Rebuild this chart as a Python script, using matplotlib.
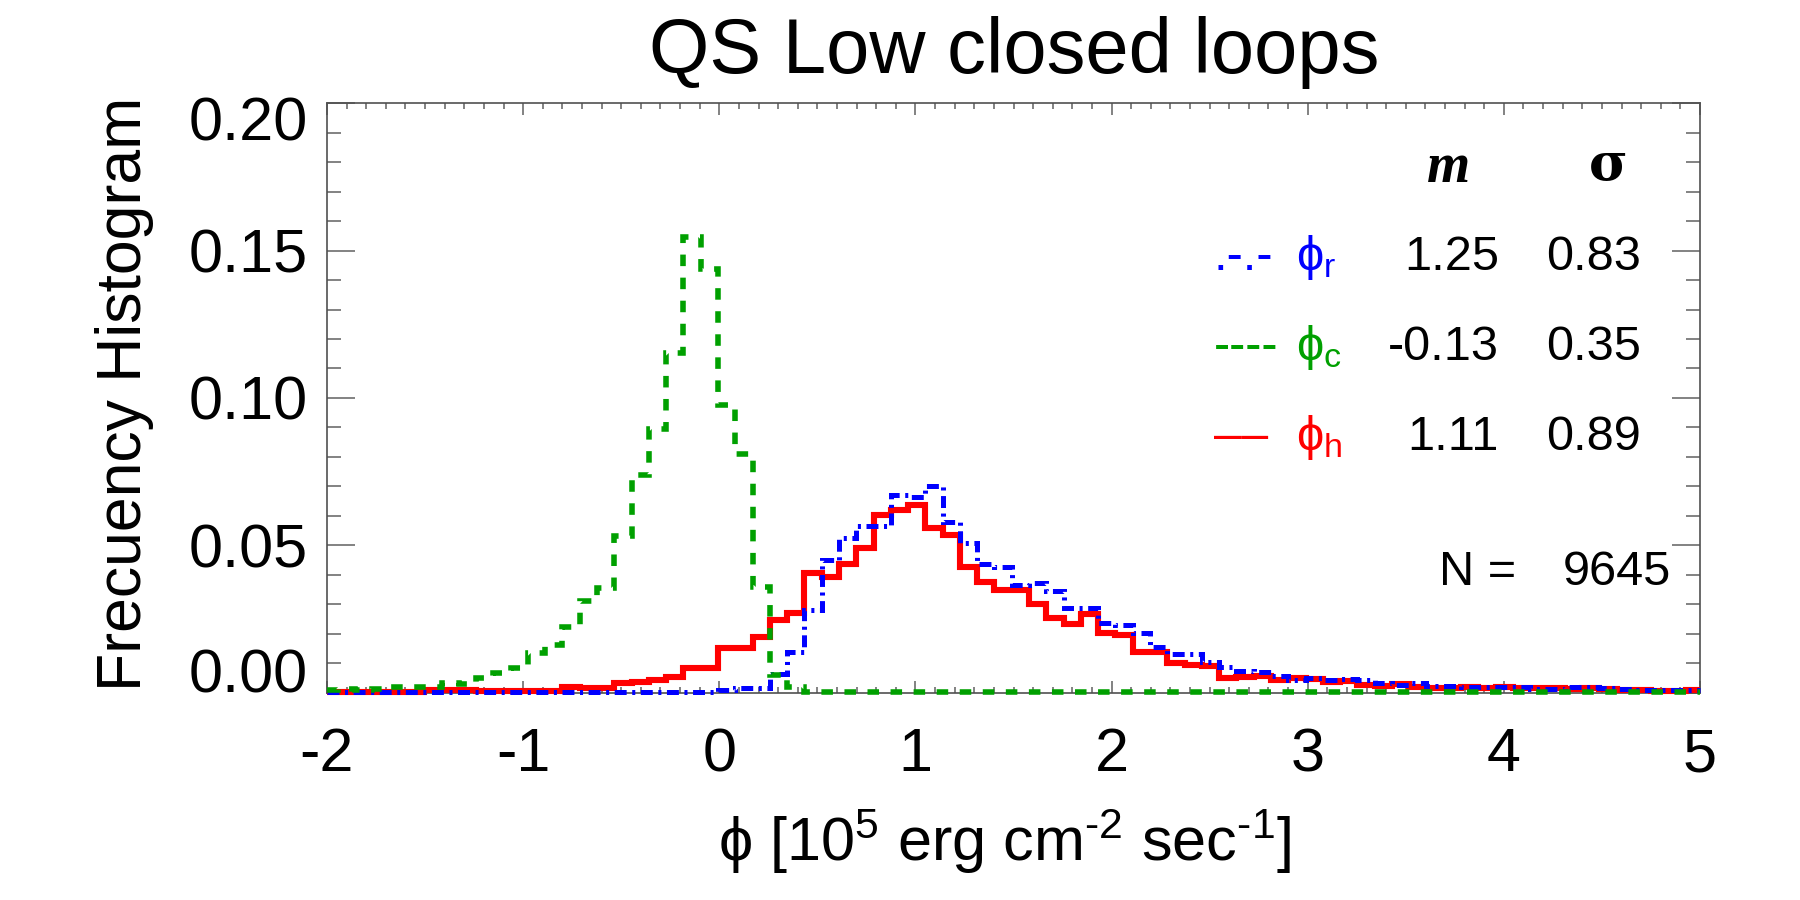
import numpy as np
import matplotlib
matplotlib.use("Agg")
import matplotlib.pyplot as plt
from matplotlib.ticker import FixedLocator, MultipleLocator
from matplotlib.transforms import ScaledTranslation

plt.rcParams['font.family'] = ['Liberation Sans', 'DejaVu Sans']
plt.rcParams['axes.unicode_minus'] = False
plt.rcParams['mathtext.fontset'] = 'custom'
plt.rcParams['mathtext.rm'] = 'Liberation Sans'
plt.rcParams['mathtext.it'] = 'Liberation Sans:italic'
plt.rcParams['mathtext.bf'] = 'Liberation Sans:bold'
plt.rcParams['mathtext.fallback'] = 'stix'
plt.rcParams['lines.scale_dashes'] = False

# ---------------- data ----------------
title = "QS Low closed loops"
xlabel = r"$\mathrm{\phi}$ [10$^{5}$ erg cm$^{\text{-2}}$ sec$^{\text{-1}}$]"
ylabel = "Frecuency Histogram"

bin_start = -2.0329
bin_width = 0.0881

# frequency per bin (80 bins)
phi_r = [0.0001, 0.0001, 0.0001, 0.0001, 0.0001, 0.0003, 0.0003, 0.0003,
         0.0003, 0.0003, 0.0003, 0.0003, 0.0003, 0.0003, 0.0003, 0.0003,
         0.0003, 0.0003, 0.0003, 0.0003, 0.0003, 0.0003, 0.0003,
         0.0008, 0.0014, 0.0014, 0.0062, 0.0136, 0.0280, 0.0449, 0.0526,
         0.0566, 0.0566, 0.0670, 0.0665, 0.0701, 0.0579, 0.0506, 0.0435,
         0.0427, 0.0365, 0.0370, 0.0345, 0.0286, 0.0286, 0.0235, 0.0229,
         0.0201, 0.0155, 0.0131, 0.0130, 0.0105, 0.0088, 0.0074, 0.0071,
         0.0056, 0.0042, 0.0048, 0.0042, 0.0046, 0.0042, 0.0033, 0.0025,
         0.0031, 0.0022, 0.0022, 0.0018, 0.0020, 0.0018, 0.0018, 0.0012,
         0.0012, 0.0020, 0.0018, 0.0014, 0.0012, 0.0010, 0.0010, 0.0008,
         0.0008]
phi_c = [0.0008, 0.0011, 0.0008, 0.0011, 0.0020, 0.0018, 0.0019, 0.0033,
         0.0029, 0.0048, 0.0067, 0.0082, 0.0133, 0.0161, 0.0223, 0.0310,
         0.0355, 0.0532, 0.0738, 0.0895, 0.1154, 0.1546, 0.1436,
         0.0975, 0.0809, 0.0359, 0.0059, 0.0018, 0.0003, 0.0002, 0.0002,
         0.0002, 0.0002, 0.0002, 0.0002, 0.0002, 0.0002, 0.0002, 0.0002,
         0.0002, 0.0002, 0.0002, 0.0002, 0.0002, 0.0002, 0.0002, 0.0002,
         0.0002, 0.0002, 0.0002, 0.0002, 0.0002, 0.0002, 0.0002, 0.0002,
         0.0002, 0.0002, 0.0002, 0.0002, 0.0002, 0.0002, 0.0002, 0.0002,
         0.0002, 0.0002, 0.0002, 0.0002, 0.0002, 0.0002, 0.0002, 0.0002,
         0.0002, 0.0002, 0.0002, 0.0002, 0.0002, 0.0002, 0.0002, 0.0002,
         0.0002]
phi_h = [0.0003, 0.0003, 0.0003, 0.0003, 0.0003, 0.0003, 0.0008, 0.0008,
         0.0008, 0.0005, 0.0005, 0.0005, 0.0005, 0.0005, 0.0020, 0.0015,
         0.0014, 0.0031, 0.0037, 0.0042, 0.0052, 0.0082, 0.0082,
         0.0150, 0.0150, 0.0189, 0.0246, 0.0269, 0.0404, 0.0393, 0.0435,
         0.0491, 0.0604, 0.0619, 0.0636, 0.0560, 0.0534, 0.0427, 0.0374,
         0.0348, 0.0348, 0.0300, 0.0252, 0.0232, 0.0266, 0.0201, 0.0195,
         0.0136, 0.0137, 0.0099, 0.0093, 0.0090, 0.0048, 0.0052, 0.0056,
         0.0042, 0.0050, 0.0045, 0.0037, 0.0038, 0.0025, 0.0022, 0.0028,
         0.0018, 0.0014, 0.0015, 0.0020, 0.0014, 0.0017, 0.0014, 0.0016,
         0.0014, 0.0013, 0.0014, 0.0011, 0.0010, 0.0008, 0.0006, 0.0006,
         0.0008]

series_names = [r"$\mathrm{\phi}_{\mathrm{r}}$", r"$\mathrm{\phi}_{\mathrm{c}}$",
                r"$\mathrm{\phi}_{\mathrm{h}}$"]
series_samples = [".-.-", "----", "\u2013\u2013"]
means = ["1.25", "-0.13", "1.11"]
sigmas = ["0.83", "0.35", "0.89"]
n_label = "N ="
n_value = "9645"

xticks = [-2, -1, 0, 1, 2, 3, 4, 5]
yticks = [0.00, 0.05, 0.10, 0.15, 0.20]
ytick_labels = ["0.00", "0.05", "0.10", "0.15", "0.20"]

# ---------------- styles ----------------
colors = ["#0000ff", "#00a000", "#ff0000"]
W, H = 1800, 900


def fx(px):
    return px / W


def fy(py):
    return 1 - py / H


fig = plt.figure(figsize=(18, 9), dpi=100)
ax = fig.add_axes([fx(327), fy(692.5), fx(1700) - fx(327), fy(103.3) - fy(692.5)])

edges = np.clip(bin_start + bin_width * np.arange(len(phi_h) + 1), -2, 5)

ax.stairs(phi_h, edges, baseline=None, color=colors[2], lw=4.4,
          clip_on=False, joinstyle='miter', zorder=3)
ax.stairs(phi_r, edges, baseline=None, color=colors[0], lw=3.6,
          linestyle=(0, (8.6, 4.0, 2.2, 4.0)), clip_on=False,
          capstyle='butt', joinstyle='miter', zorder=4)
ax.stairs(phi_c, edges, baseline=None, color=colors[1], lw=4.0,
          linestyle=(0, (8.3, 8.3)), clip_on=False,
          capstyle='butt', joinstyle='miter', zorder=5)

ax.set_xlim(-2, 5)
ax.set_ylim(0, 0.2)
ax.xaxis.set_major_locator(FixedLocator(xticks))
ax.xaxis.set_minor_locator(MultipleLocator(0.1))
ax.yaxis.set_major_locator(FixedLocator(yticks))
ax.yaxis.set_minor_locator(MultipleLocator(0.01))
ax.set_xticklabels([str(t) for t in xticks])
ax.set_yticklabels(ytick_labels)

tick_col = '#606060'
ax.tick_params(which='both', direction='in', top=True, right=True,
               color=tick_col, width=1.1, labelsize=44)
ax.tick_params(axis='x', which='major', length=8.6, pad=25)
ax.tick_params(axis='x', which='minor', length=4.3)
ax.tick_params(axis='y', which='major', length=20, pad=14)
ax.tick_params(axis='y', which='minor', length=10)
for s in ax.spines.values():
    s.set_color('#505050')
    s.set_linewidth(1.2)

ylabs = ax.get_yticklabels()
ylabs[0].set_transform(ylabs[0].get_transform() +
                       ScaledTranslation(0, 22 / 100, fig.dpi_scale_trans))
ylabs[-1].set_transform(ylabs[-1].get_transform() +
                        ScaledTranslation(0, -15 / 100, fig.dpi_scale_trans))

# titles
fig.text(fx(1014), fy(73.3), title, ha='center', va='baseline', fontsize=56)
fig.text(fx(1005), fy(861), xlabel, ha='center', va='baseline', fontsize=44)
fig.text(fx(141), fy(394), ylabel, ha='center', va='baseline', fontsize=45,
         rotation=90, rotation_mode='anchor')

# annotation block
fs = 35
fig.text(fx(1449), fy(181.7), "m", ha='center', va='baseline', fontsize=40,
         family='Liberation Serif', style='italic', weight='bold')
fig.text(fx(1608), fy(180), "\u03c3", ha='center', va='baseline', fontsize=38,
         family='DejaVu Serif', weight='bold')
row_y = [270, 360, 450]
for i in range(3):
    fig.text(fx(1214), fy(row_y[i]), series_samples[i], ha='left', va='baseline',
             fontsize=fs, color=colors[i])
    fig.text(fx(1296), fy(row_y[i]), series_names[i], ha='left', va='baseline',
             fontsize=fs, color=colors[i])
    fig.text(fx(1499), fy(row_y[i]), means[i], ha='right', va='baseline',
             fontsize=fs, color='black')
    fig.text(fx(1641), fy(row_y[i]), sigmas[i], ha='right', va='baseline',
             fontsize=fs, color='black')
fig.text(fx(1439), fy(585), n_label, ha='left', va='baseline', fontsize=fs)
fig.text(fx(1671), fy(585), n_value, ha='right', va='baseline', fontsize=fs)

fig.savefig("out.png", dpi=100, facecolor='white')
